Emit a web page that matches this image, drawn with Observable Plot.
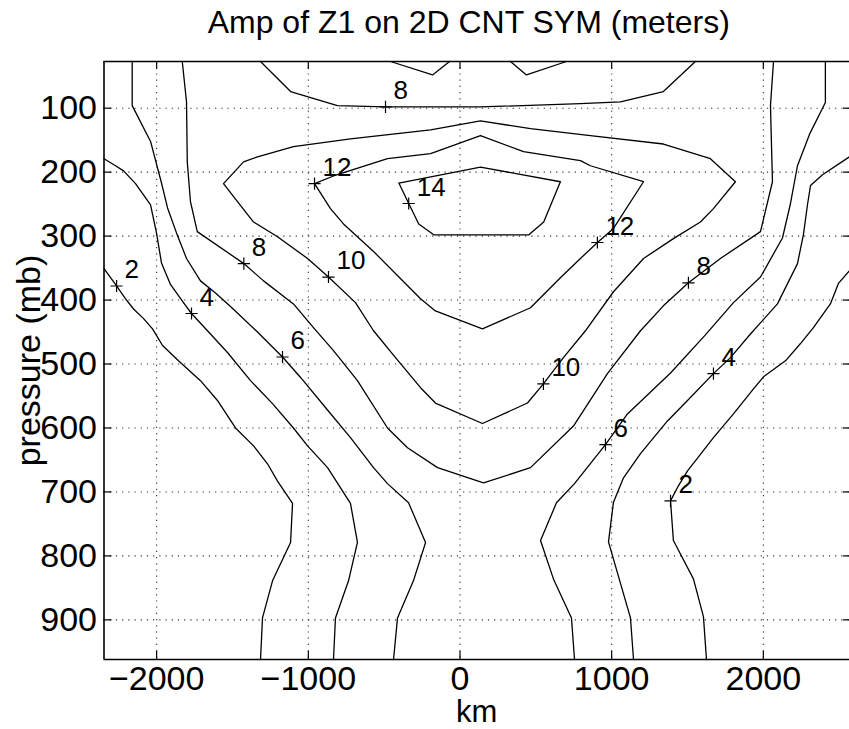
<!DOCTYPE html>
<html>
<head>
<meta charset="utf-8">
<script src="https://cdn.jsdelivr.net/npm/d3@7"></script>
<script src="https://cdn.jsdelivr.net/npm/@observablehq/plot@0.6"></script>
<style>
  html, body { margin: 0; padding: 0; background: #fff; }
</style>
</head>
<body>
<div id="chart"></div>
<script>
// ---- texts ----
const title = "Amp of Z1 on 2D CNT SYM (meters)";
const xLabel = "km";
const yLabel = "pressure (mb)";

// ---- axes ----
const xTicks = [-2000, -1000, 0, 1000, 2000];
const yTicks = [100, 200, 300, 400, 500, 600, 700, 800, 900];
const xDomain = [-2347, 2568];
const yDomain = [27, 962];

// ---- contour polylines, [km, mb] ----
const c2Left = [[-2347,351],[-2264,378],[-2205,398],[-2152,414],[-2086,429],[-2027,445],[-1961,471],[-1856,495],[-1711,526],[-1599,557],[-1480,600],[-1361,628],[-1269,656],[-1203,683],[-1104,718],[-1117,779],[-1236,839],[-1302,897],[-1315,962]];
const c4Left = [[-2347,179],[-2271,190],[-2218,198],[-2139,218],[-2040,251],[-2001,295],[-1968,342],[-1908,376],[-1823,404],[-1770,421],[-1645,453],[-1533,482],[-1381,526],[-1236,562],[-1098,600],[-1005,628],[-873,662],[-722,718],[-676,779],[-735,839],[-821,897],[-834,962]];
const c6Left = [[-2161,27],[-2161,96],[-2040,152],[-1968,217],[-1928,256],[-1869,295],[-1803,335],[-1711,370],[-1612,389],[-1513,410],[-1335,450],[-1170,489],[-1051,521],[-887,568],[-722,615],[-570,662],[-478,687],[-339,717],[-227,779],[-307,839],[-412,897],[-438,962]];
const c8Main = [[-1831,27],[-1803,90],[-1798,184],[-1777,246],[-1732,293],[-1425,343],[-1295,370],[-1098,406],[-966,443],[-834,479],[-676,526],[-478,600],[-346,631],[-148,662],[155,686],[465,662],[748,597],[972,515],[1190,448],[1341,409],[1506,373],[1717,335],[1981,293],[2060,215],[2047,96],[2067,27]];
const c6Right = [[2409,27],[2409,91],[2304,141],[2225,190],[2179,249],[2126,303],[1981,364],[1803,404],[1612,456],[1388,514],[1104,578],[959,626],[755,687],[636,717],[531,776],[616,836],[735,897],[755,962]];
const c4Right = [[2568,176],[2390,204],[2311,221],[2291,251],[2264,298],[2225,343],[2093,406],[1915,453],[1783,490],[1671,515],[1500,557],[1368,589],[1190,640],[1078,678],[1012,716],[979,778],[1124,897],[1144,962]];
const c2Right = [[2568,354],[2495,374],[2442,406],[2330,443],[2245,468],[2146,495],[2001,520],[1935,539],[1803,578],[1671,615],[1566,647],[1500,667],[1434,693],[1388,714],[1407,776],[1539,836],[1605,895],[1625,962]];
const c10 = [[-1559,218],[-1427,184],[-1335,176],[-1098,160],[-722,148],[-194,134],[135,120],[465,132],[860,143],[1341,156],[1651,179],[1816,215],[1671,257],[1585,278],[1407,304],[1210,335],[1012,387],[827,448],[682,490],[550,531],[445,561],[148,593],[-162,561],[-260,537],[-425,490],[-570,448],[-689,404],[-867,364],[-1005,335],[-1203,301],[-1361,278],[-1467,246],[-1559,218]];
const c12 = [[-959,218],[-834,206],[-478,179],[-194,171],[135,143],[419,168],[794,182],[860,190],[1210,215],[1012,288],[906,310],[794,335],[662,365],[465,412],[148,445],[-162,417],[-260,398],[-570,324],[-768,281],[-854,257],[-959,218]];
const c14 = [[-403,217],[135,192],[662,215],[552,278],[454,298],[-173,298],[-272,281],[-338,249],[-403,217]];
const c8Top = [[-1315,27],[-1117,74],[-808,96],[-491,98],[135,98],[794,93],[1058,90],[1341,74],[1552,27]];
const notchA = [[-458,27],[-181,48],[-69,27]];
const notchB = [[333,27],[438,48],[702,27]];

const contourLevels = [2, 4, 6, 8, 6, 4, 2, 10, 12, 14, 8, 10, 10];
const contourPaths = [c2Left, c4Left, c6Left, c8Main, c6Right, c4Right, c2Right, c10, c12, c14, c8Top, notchA, notchB];

// ---- contour labels (value, position of the + marker) ----
const labelValues = [2, 4, 8, 6, 10, 12, 14, 8, 12, 8, 10, 4, 6, 2];
const labelKm = [-2264, -1770, -1425, -1170, -867, -959, -338, -491, 906, 1506, 550, 1671, 959, 1388];
const labelMb = [378, 421, 343, 489, 364, 218, 249, 98, 310, 373, 531, 515, 626, 714];

// ---- build tables ----
const rows = contourPaths.flatMap((pts, i) =>
  pts.map(([x, p]) => ({id: i, level: contourLevels[i], x, p})));
const labels = labelValues.map((v, i) => ({v: String(v), x: labelKm[i], p: labelMb[i]}));

const W = 849, H = 729, mL = 103.5, mR = 0, mT = 61, mB = 70;
const plotW = W - mL - mR, plotH = H - mT - mB;
const font = "'Liberation Sans', Helvetica, Arial, sans-serif";

const chart = Plot.plot({
  width: W,
  height: H,
  marginLeft: mL,
  marginRight: mR,
  marginTop: mT,
  marginBottom: mB,
  style: {fontFamily: font, fontSize: "34px", background: "white", color: "black", overflow: "visible"},
  x: {domain: xDomain, ticks: xTicks, tickSize: 0, tickPadding: 6, tickFormat: "d", label: null},
  y: {domain: yDomain, reverse: true, ticks: yTicks, tickSize: 0, tickPadding: 7, tickFormat: "d", label: null},
  marks: [
    // dotted grid
    Plot.ruleX(xTicks, {x: d => d, stroke: "#333", strokeWidth: 1.1, strokeDasharray: "1.2,5"}),
    Plot.ruleY(yTicks, {y: d => d, stroke: "#333", strokeWidth: 1.1, strokeDasharray: "1.2,5"}),
    // contours
    Plot.line(rows, {x: "x", y: "p", z: "id", stroke: "black", strokeWidth: 1.3}),
    // frame (left, top, bottom)
    Plot.ruleX([xDomain[0]], {x: d => d, stroke: "black", strokeWidth: 1.6}),
    Plot.ruleY([yDomain[0], yDomain[1]], {y: d => d, stroke: "black", strokeWidth: 1.6}),
    // inward ticks
    Plot.tickX(xTicks, {x: d => d, insetTop: plotH - 8, stroke: "black", strokeWidth: 1.2}),
    Plot.tickX(xTicks, {x: d => d, insetBottom: plotH - 8, stroke: "black", strokeWidth: 1.2}),
    Plot.tickY(yTicks, {y: d => d, insetRight: plotW - 8, stroke: "black", strokeWidth: 1.2}),
    Plot.tickY(yTicks, {y: d => d, insetLeft: plotW - 6, stroke: "black", strokeWidth: 1.2}),
    // contour labels
    Plot.dot(labels, {x: "x", y: "p", symbol: "plus", r: 4, stroke: "black", strokeWidth: 1.2}),
    Plot.text(labels, {x: "x", y: "p", text: "v", textAnchor: "start", lineAnchor: "middle", dx: 8, dy: -16, fontSize: 26, fill: "black"}),
    // title and axis labels
    Plot.text([title], {text: d => d, frameAnchor: "top", textAnchor: "middle", lineAnchor: "middle", dx: -8, dy: -39, fontSize: 32, fill: "black"}),
    Plot.text([xLabel], {text: d => d, frameAnchor: "bottom", textAnchor: "middle", lineAnchor: "middle", dy: 53, fontSize: 31, fill: "black"}),
    Plot.text([yLabel], {text: d => d, frameAnchor: "left", textAnchor: "middle", rotate: -90, lineAnchor: "bottom", dx: -64, fontSize: 34, fill: "black"})
  ]
});

document.getElementById("chart").appendChild(chart);
</script>
</body>
</html>
